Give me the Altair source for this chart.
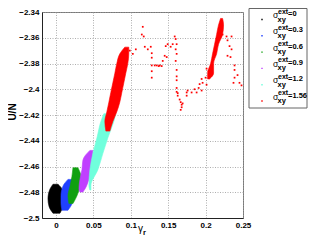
import altair as alt
import pandas as pd

# ---- dense clouds: y levels with left / right x extent ----
black_y = [-2.4738, -2.4775, -2.485, -2.491, -2.4963]
black_xl = [-0.004, -0.008, -0.0107, -0.0093, -0.004]
black_xr = [0.0027, 0.008, 0.0107, 0.0093, 0.0053]

blue_y = [-2.47, -2.4753, -2.4828, -2.4888, -2.494]
blue_xl = [0.016, 0.0093, 0.0067, 0.0067, 0.008]
blue_xr = [0.0213, 0.0227, 0.0227, 0.0213, 0.016]

green_y = [-2.461, -2.4678, -2.4753, -2.4828, -2.4888]
green_xl = [0.0227, 0.0213, 0.0187, 0.016, 0.0173]
green_xr = [0.0293, 0.0333, 0.032, 0.028, 0.0227]

purple_y = [-2.4475, -2.455, -2.4625, -2.47, -2.4775, -2.4798]
purple_xl = [0.0453, 0.036, 0.0347, 0.032, 0.0307, 0.032]
purple_xr = [0.0493, 0.0493, 0.048, 0.044, 0.0387, 0.036]

cyan_y = [-2.419, -2.425, -2.4378, -2.4498, -2.4625, -2.4748, -2.4783]
cyan_xl = [0.064, 0.06, 0.0547, 0.0493, 0.0453, 0.044, 0.0453]
cyan_xr = [0.08, 0.0773, 0.0693, 0.0627, 0.056, 0.0467, 0.0467]

red_y = [-2.3673, -2.3725, -2.38, -2.3875, -2.395, -2.4025, -2.41, -2.4175, -2.425, -2.4325]
red_xl = [0.092, 0.0853, 0.0813, 0.0787, 0.076, 0.0733, 0.0707, 0.068, 0.0653, 0.0667]
red_xr = [0.0973, 0.0973, 0.096, 0.0933, 0.0907, 0.088, 0.0853, 0.0813, 0.076, 0.072]

red2_y = [-2.345, -2.35, -2.3575, -2.365, -2.3725, -2.38, -2.3875, -2.392]
red2_xl = [0.22, 0.2173, 0.2147, 0.212, 0.2093, 0.2067, 0.2027, 0.2027]
red2_xr = [0.2227, 0.224, 0.2227, 0.2173, 0.2147, 0.2107, 0.2107, 0.2053]

# ---- sparse red points ----
sx = [0.116, 0.1147, 0.1173, 0.1187, 0.1267, 0.128, 0.128, 0.128, 0.132, 0.128,
      0.128, 0.1067, 0.1027, 0.0987, 0.1347, 0.1373, 0.1467, 0.1493, 0.1453, 0.1427,
      0.1587, 0.16, 0.1613, 0.16, 0.1613, 0.16, 0.156, 0.1533, 0.1613, 0.1613,
      0.1613, 0.1613, 0.1613, 0.1627, 0.1653, 0.1667, 0.168, 0.1667, 0.1693, 0.1747,
      0.176, 0.1747, 0.1813, 0.1853, 0.188, 0.1907, 0.192, 0.1947, 0.196, 0.2013,
      0.2, 0.2013, 0.204, 0.2347, 0.232, 0.2293, 0.2387, 0.2427, 0.2387, 0.2453,
      0.248, 0.2373, 0.2227, 0.228, 0.2293, 0.2347, 0.2333, 0.2387, 0.1413, 0.1387,
      0.148, 0.1947, 0.1627, 0.168, 0.1227]
sy = [-2.3515, -2.3575, -2.359, -2.367, -2.367, -2.372, -2.3755, -2.3815, -2.3815, -2.386,
      -2.391, -2.369, -2.3725, -2.370, -2.3815, -2.382, -2.3665, -2.365, -2.374, -2.378,
      -2.359, -2.361, -2.365, -2.369, -2.3725, -2.378, -2.365, -2.367, -2.385, -2.390,
      -2.393, -2.399, -2.402, -2.403, -2.408, -2.410, -2.414, -2.416, -2.411, -2.4025,
      -2.401, -2.405, -2.4025, -2.400, -2.4025, -2.399, -2.396, -2.392, -2.395, -2.3965,
      -2.391, -2.384, -2.386, -2.359, -2.3665, -2.374, -2.385, -2.389, -2.391, -2.395,
      -2.397, -2.395, -2.3575, -2.359, -2.362, -2.369, -2.375, -2.3815, -2.382, -2.3815,
      -2.375, -2.401, -2.405, -2.412, -2.369]

legend_values = ["0", "0.3", "0.6", "0.9", "1.2", "1.56"]
colors = ["#000000", "#2040ff", "#10a010", "#c040ff", "#70ffdc", "#ff0000"]

x_ticks = [0, 0.05, 0.1, 0.15, 0.2, 0.25]
y_ticks = [-2.5, -2.48, -2.46, -2.44, -2.42, -2.4, -2.38, -2.36, -2.34]

xs = alt.Scale(domain=[-0.0187, 0.25], nice=False, zero=False)
ys = alt.Scale(domain=[-2.5, -2.34], nice=False, zero=False)
FONT = "Liberation Sans"

common = dict(format="~g", title=None, grid=True, gridColor="#999999",
              gridDash=[1, 1.5], gridWidth=0.8, ticks=False,
              labelFont=FONT, labelFontSize=8, labelFontWeight="bold",
              labelColor="black", labelOverlap=False, labelBound=False,
              labelFlush=False, domainColor="#222222", domainWidth=1, labelPadding=3)
x_axis = alt.Axis(values=x_ticks, tickCount=len(x_ticks), **common)
y_axis = alt.Axis(values=y_ticks, tickCount=len(y_ticks), **common)


def cloud(yv, xl, xr, color):
    df = pd.DataFrame({"y": yv, "xl": xl, "xr": xr})
    return alt.Chart(df).mark_area(orient="horizontal", interpolate="monotone",
                                   color=color, stroke=color, strokeWidth=0.6).encode(
        y=alt.Y("y:Q", scale=ys, axis=y_axis),
        x=alt.X("xl:Q", scale=xs, axis=x_axis),
        x2="xr:Q",
    )

clouds = [
    cloud(black_y, black_xl, black_xr, colors[0]),
    cloud(blue_y, blue_xl, blue_xr, colors[1]),
    cloud(green_y, green_xl, green_xr, colors[2]),
    cloud(purple_y, purple_xl, purple_xr, colors[3]),
    cloud(cyan_y, cyan_xl, cyan_xr, colors[4]),
    cloud(red_y, red_xl, red_xr, colors[5]),
    cloud(red2_y, red2_xl, red2_xr, colors[5]),
]

pts = alt.Chart(pd.DataFrame({"x": sx, "y": sy})).mark_square(
    color="#ff0000", size=3, opacity=1).encode(
    x=alt.X("x:Q", scale=xs, axis=x_axis),
    y=alt.Y("y:Q", scale=ys, axis=y_axis),
)

main = alt.layer(*clouds, pts)

# ---- custom legend & titles (pixel space relative to plot origin) ----
n = len(legend_values)
leg = pd.DataFrame({
    "label": ["=" + v for v in legend_values],
    "color": colors,
    "base": [6 + 16.3 * i for i in range(n)],
})
leg["dot"] = leg["base"] + 1.5
leg["sup"] = leg["base"] - 4.5
leg["sub"] = leg["base"] + 3.5
leg["val"] = leg["base"] - 2

box = alt.Chart(pd.DataFrame({"a": [0]})).mark_rect(
    fill="white", stroke="#666666", strokeWidth=1).encode(
    x=alt.value(207), x2=alt.value(265), y=alt.value(-3.5), y2=alt.value(96))

dots = alt.Chart(leg).mark_square(size=2, opacity=1).encode(
    x=alt.value(220), y=alt.Y("dot:Q", scale=None, axis=None),
    color=alt.Color("color:N", scale=None, legend=None))

def ltxt(field, xpos, size, text=None, textfield=None, weight="normal"):
    m = alt.Chart(leg).mark_text(align="left", baseline="alphabetic", font=FONT,
                                 fontSize=size, fontWeight=weight, color="black",
                                 **({"text": text} if text else {}))
    enc = dict(x=alt.value(xpos), y=alt.Y(field + ":Q", scale=None, axis=None))
    if textfield:
        enc["text"] = alt.Text(textfield + ":N")
    return m.encode(**enc)

sig = ltxt("base", 231, 8.5, text="σ")
ext = ltxt("sup", 236, 7, text="ext", weight="bold")
xy = ltxt("sub", 235.5, 7.5, text="xy", weight="bold")
val = ltxt("val", 246, 7.5, textfield="label", weight="bold")

one = pd.DataFrame({"a": [0]})
ytitle = alt.Chart(one).mark_text(text="U/N", angle=270, font=FONT, fontSize=10,
                                  fontWeight="bold", color="black", baseline="middle").encode(
    x=alt.value(-29), y=alt.value(100))
gam = alt.Chart(one).mark_text(text="γ", font=FONT, fontSize=10, color="black",
                               align="left", baseline="alphabetic").encode(
    x=alt.value(96), y=alt.value(220))
rsub = alt.Chart(one).mark_text(text="r", font=FONT, fontSize=7.5, fontWeight="bold",
                                color="black", align="left", baseline="alphabetic").encode(
    x=alt.value(101), y=alt.value(223))

overlay = alt.layer(box, dots, sig, ext, xy, val, ytitle, gam, rsub)

chart = alt.layer(main, overlay).resolve_scale(
    x="independent", y="independent", color="independent"
).properties(
    width=201, height=206,
    autosize=alt.AutoSizeParams(type="none"),
    padding={"left": 34, "top": 4, "right": 65, "bottom": 18},
).configure_view(
    stroke="#777777", strokeWidth=1
)

chart.save("out.html", embed_options={"renderer": "svg", "actions": False})
